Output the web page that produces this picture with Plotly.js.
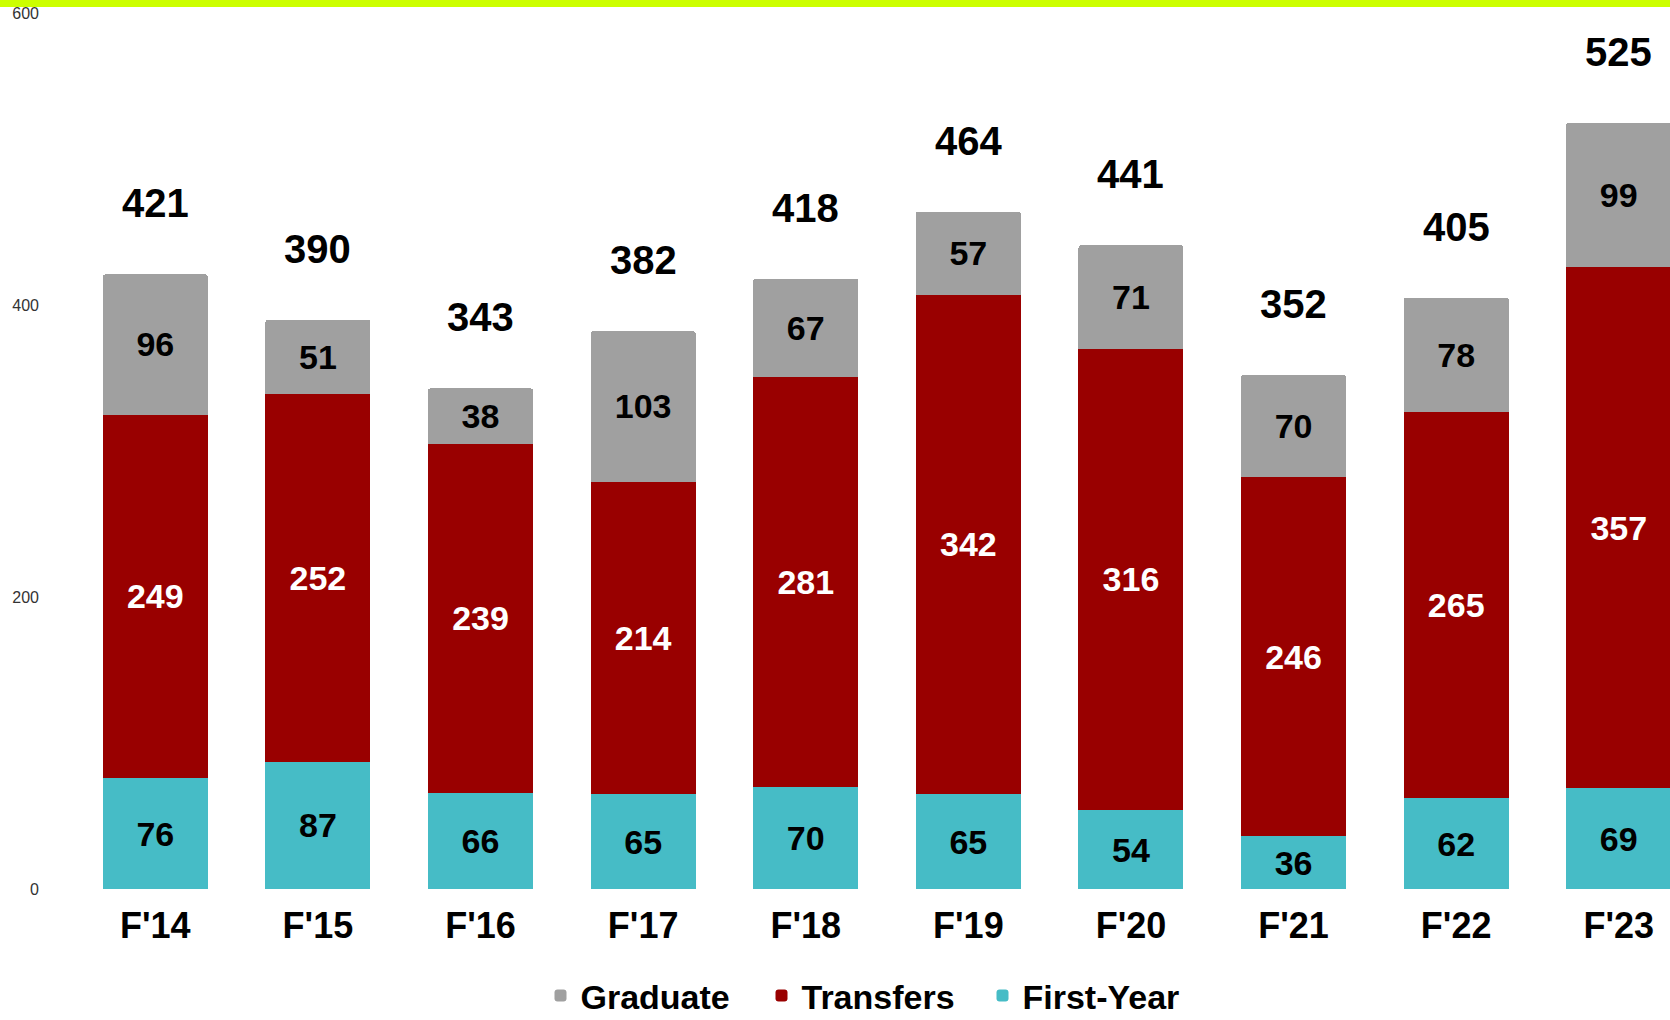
<!DOCTYPE html>
<html>
<head>
<meta charset="utf-8">
<script src="https://cdn.plot.ly/plotly-3.0.1.min.js"></script>
<style>
  html, body { margin: 0; padding: 0; background: #fff; }
  #wrap { position: relative; width: 1670px; height: 1020px; overflow: hidden; }
  #chart { width: 1670px; height: 1020px; }
  #topbar { position: absolute; left: 0; top: 0; width: 1670px; height: 7px; background: #ccff00; z-index: 5; }
</style>
</head>
<body>
<div id="wrap">
  <div id="chart"></div>
  <div id="topbar"></div>
</div>
<script>
const categories = ["F'14", "F'15", "F'16", "F'17", "F'18", "F'19", "F'20", "F'21", "F'22", "F'23"];
const firstYear = [76, 87, 66, 65, 70, 65, 54, 36, 62, 69];
const transfers = [249, 252, 239, 214, 281, 342, 316, 246, 265, 357];
const graduate  = [96, 51, 38, 103, 67, 57, 71, 70, 78, 99];
const totals    = [421, 390, 343, 382, 418, 464, 441, 352, 405, 525];
const yTicks = [0, 200, 400, 600];

const FONT = "Liberation Sans, Arial, Helvetica, sans-serif";

function barTrace(name, values, color, textColor) {
  return {
    type: 'bar',
    name: name,
    x: categories,
    y: values,
    text: values.map(String),
    textposition: 'inside',
    insidetextanchor: 'middle',
    constraintext: 'none',
    textangle: 0,
    insidetextfont: { family: FONT, size: 34, color: textColor, weight: 'bold' },
    marker: { color: color, line: { width: 0 } },
    hoverinfo: 'x+y+name'
  };
}

const data = [
  barTrace('First-Year', firstYear, '#46BCC6', '#000000'),
  barTrace('Transfers', transfers, '#990000', '#ffffff'),
  barTrace('Graduate', graduate, '#A0A0A0', '#000000')
];

const annotations = categories.map((c, i) => ({
  x: c,
  y: totals[i],
  xref: 'x',
  yref: 'y',
  text: String(totals[i]),
  showarrow: false,
  yanchor: 'bottom',
  yshift: 47,
  font: { family: FONT, size: 40, color: '#000000', weight: 'bold' }
}));

const layout = {
  width: 1670,
  height: 1020,
  paper_bgcolor: '#ffffff',
  plot_bgcolor: '#ffffff',
  margin: { l: 74, r: 0, t: 13, b: 131, pad: 0, autoexpand: false },
  barmode: 'stack',
  bargap: 0.354,
  barcornerradius: 3,
  font: { family: FONT },
  xaxis: {
    type: 'category',
    range: [-0.5, 9.315],
    showgrid: false,
    zeroline: false,
    showline: false,
    ticks: '',
    ticklabelstandoff: 12,
    tickfont: { family: FONT, size: 36, color: '#000000', weight: 'bold' },
    fixedrange: true
  },
  yaxis: {
    range: [0, 600],
    tickvals: yTicks,
    ticktext: yTicks.map(String),
    showgrid: false,
    zeroline: false,
    showline: false,
    ticks: '',
    ticklabelstandoff: 34,
    tickfont: { family: FONT, size: 16, color: '#333333' },
    fixedrange: true
  },
  legend: {
    orientation: 'h',
    x: 0.5,
    xanchor: 'center',
    y: -0.122,
    yanchor: 'middle',
    traceorder: 'reversed',
    entrywidth: 176,
    font: { family: FONT, size: 34, color: '#000000', weight: 'bold' },
    bgcolor: 'rgba(0,0,0,0)'
  },
  annotations: annotations,
  showlegend: true
};

Plotly.newPlot('chart', data, layout, { displayModeBar: false, staticPlot: true });
</script>
</body>
</html>
